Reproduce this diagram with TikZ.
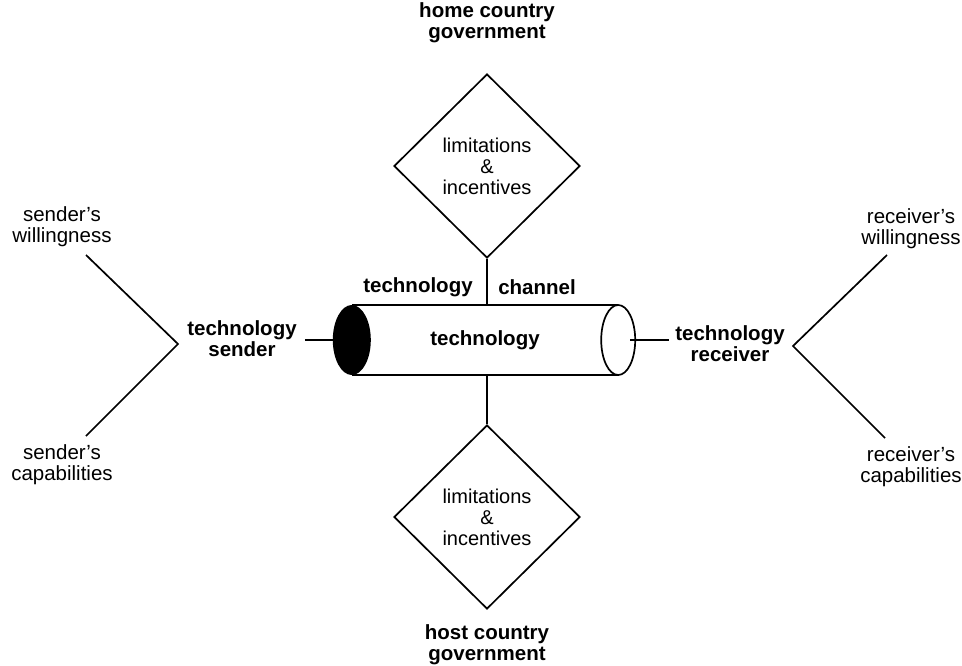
\documentclass[tikz,border=0pt]{standalone}
\usepackage{fontspec}
\setmainfont{Liberation Sans}
\usetikzlibrary{shapes.geometric}
\tikzset{
  lab/.style={align=center, font=\fontsize{20.5}{21}\selectfont, inner sep=0pt},
  blab/.style={align=center, font=\fontsize{20.5}{21}\selectfont\bfseries, inner sep=0pt},
  dia/.style={diamond, draw, line width=1.7pt, minimum width=186pt, minimum height=184pt,
    inner sep=0pt, align=center, font=\fontsize{20}{21}\selectfont},
  ln/.style={line width=1.7pt},
}
\begin{document}
\begin{tikzpicture}[x=1pt,y=-1pt]
\useasboundingbox (0,0) rectangle (962,665);

% top / bottom government labels
\node[blab] (home) at (487,23) {home country\\government};
\node[blab] (host) at (487,645) {host country\\government};

% diamonds
\node[dia] (dtop) at (487,166) {limitations\\\&\\incentives};
\node[dia] (dbot) at (487,517) {limitations\\\&\\incentives};

% tube
\node[blab, minimum width=266pt, minimum height=70pt] (tube) at (485,340) {technology};
\draw[ln] (tube.north west) -- (tube.north east);
\draw[ln] (tube.south west) -- (tube.south east);
\fill (tube.west) ellipse [x radius=19pt, y radius=35pt];
\draw[ln, fill=white] (tube.east) ellipse [x radius=17pt, y radius=35pt];
\coordinate (tubeL) at ([xshift=-19pt]tube.west);
\coordinate (tubeR) at ([xshift=17pt]tube.east);

% channel labels
\node[blab] (techlab) at (418,287) {technology};
\node[blab] (chanlab) at (537,287) {channel};

% vertical connectors
\draw[ln] (dtop.south) -- (dtop.south |- tube.north);
\draw[ln] (dbot.north) -- (dbot.north |- tube.south);

% sender side
\node[blab] (sender) at (242,339) {technology\\sender};
\node[lab] (sw) at (62,227) {sender's\\willingness};
\node[lab] (sc) at (62,465) {sender's\\capabilities};
\coordinate (sv) at (178,344);
\coordinate (swe) at (86,255);
\coordinate (sce) at (86,436);
\draw[ln] (swe) -- (sv) -- (sce);
\draw[ln] ([xshift=8pt]sender.east |- tubeL) -- (tubeL);

% receiver side
\node[blab] (receiver) at (730,344) {technology\\receiver};
\node[lab] (rw) at (911,229) {receiver's\\willingness};
\node[lab] (rc) at (911,467) {receiver's\\capabilities};
\coordinate (rv) at (793,346);
\coordinate (rwe) at (887,255);
\coordinate (rce) at (885,438);
\draw[ln] (rwe) -- (rv) -- (rce);
\draw[ln] ([xshift=-5pt]tubeR) -- ([xshift=-6pt]receiver.west |- tubeR);
\end{tikzpicture}
\end{document}
